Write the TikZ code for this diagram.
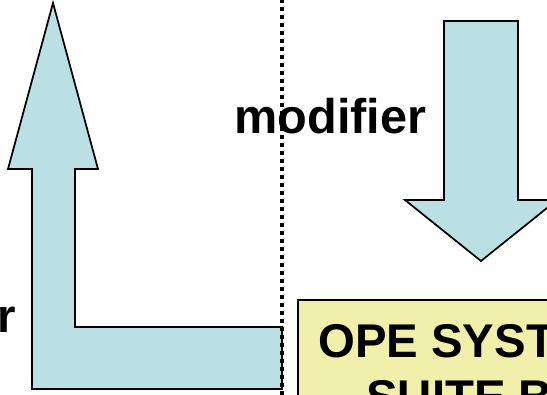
\documentclass[tikz,border=0pt]{standalone}
\usepackage{fontspec}
\setmainfont{Liberation Sans}
\definecolor{arrowblue}{RGB}{187,224,227}
\definecolor{boxyellow}{RGB}{240,240,170}
\tikzset{
  arrowshape/.style={fill=arrowblue, draw=black, line width=1.3pt, line join=miter},
  bigtext/.style={font=\bfseries\fontsize{35.5}{42}\selectfont, inner sep=0pt},
  divider/.style={draw=black, line width=2.6pt, dash pattern=on 3pt off 3pt},
  yellowbox/.style={fill=boxyellow, draw=black, line width=1.6pt}
}
\begin{document}
\begin{tikzpicture}[x=0.75pt,y=-0.75pt]
\useasboundingbox (0,0) rectangle (547,395);
\clip (0,0) rectangle (547,395);
% left L-shaped arrow
\draw[arrowshape] (53,3) -- (98,169) -- (75,169) -- (75,327) -- (282,327) -- (282,389) -- (32,389) -- (32,169) -- (8,169) -- cycle;
% right down arrow
\draw[arrowshape] (444,21) -- (518,21) -- (518,200) -- (557,200) -- (481,261) -- (405,200) -- (444,200) -- cycle;
% yellow box
\draw[yellowbox] (298,300) rectangle (580,420);
\node[bigtext, anchor=base west] (ope) at (318,358) {OPE SYST};
\node[bigtext, anchor=base west] (suite) at (366,414) {SUITE B};
% labels
\node[bigtext, anchor=base west, font=\bfseries\fontsize{36.5}{42}\selectfont] (modif) at (234,134) {modifier};
\node[bigtext, anchor=base east] (rr) at (16,333) {r};
% dotted divider
\draw[divider] (282,-1) -- (282,396);
\end{tikzpicture}
\end{document}
